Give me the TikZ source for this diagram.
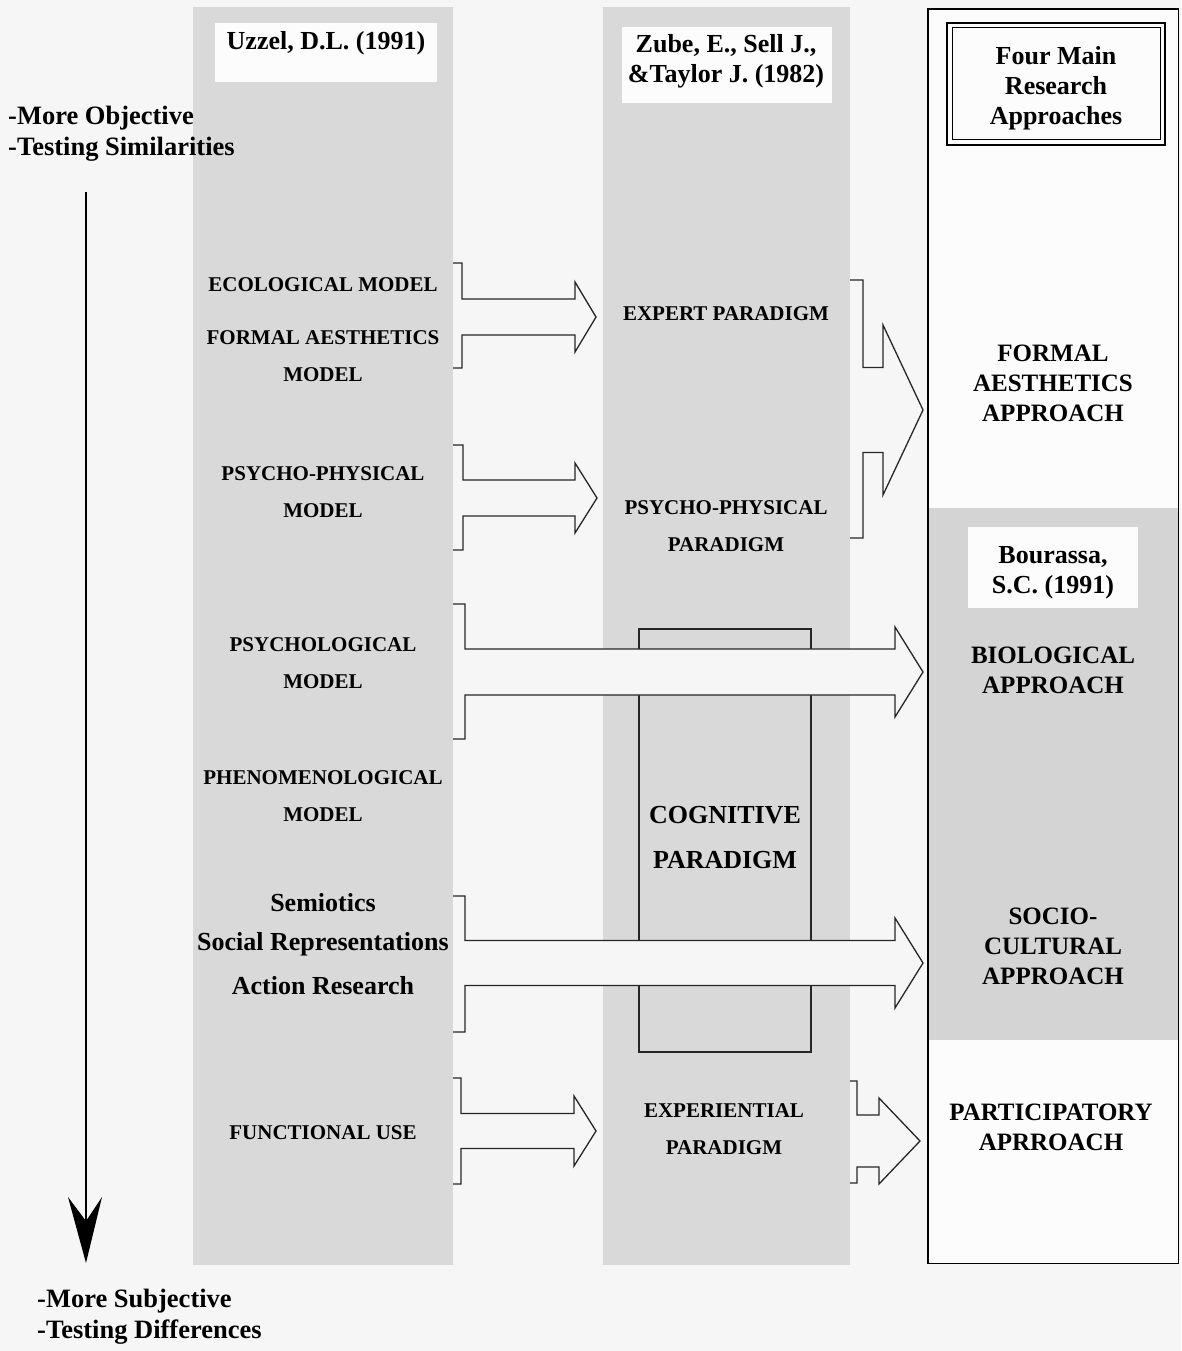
\documentclass[tikz,border=0pt]{standalone}
\usepackage{fontspec}
\setmainfont{Liberation Serif}
\definecolor{paper}{HTML}{F6F6F6}
\definecolor{band}{HTML}{D9D9D9}
\definecolor{bandR}{HTML}{D4D4D4}
\definecolor{card}{HTML}{FCFCFC}
% bracket-shaped block arrow:
% #1 tick x, #2 bracket x, #3 head base x, #4 tip x, #5 centre y,
% #6 shaft half width, #7 head half width, #8 upper tick y, #9 lower tick y
\newcommand\blockarrow[9]{%
  \fill[paper] (#2,#5-#6) -- (#3,#5-#6) -- (#3,#5-#7) -- (#4,#5)
     -- (#3,#5+#7) -- (#3,#5+#6) -- (#2,#5+#6) -- cycle;
  \draw[arrline] (#1,#8) -- (#2,#8) -- (#2,#5-#6) -- (#3,#5-#6) -- (#3,#5-#7)
     -- (#4,#5) -- (#3,#5+#7) -- (#3,#5+#6) -- (#2,#5+#6) -- (#2,#9) -- (#1,#9);
}
\begin{document}
\begin{tikzpicture}[x=1pt,y=-1pt,
  arrline/.style={draw=black!85, line width=1.3pt, line join=miter},
  capsA/.style={font=\fontsize{21}{37}\selectfont\bfseries, align=center, inner sep=0pt, anchor=base},
  bigA/.style={font=\fontsize{26}{30}\selectfont\bfseries, align=center, inner sep=0pt, anchor=base},
  apprA/.style={font=\fontsize{25}{30}\selectfont\bfseries, align=center, inner sep=0pt, anchor=base},
  sideA/.style={font=\fontsize{26.5}{31}\selectfont\bfseries, align=left, inner sep=0pt, anchor=base west},
  bandbox/.style={fill=band, draw=none, inner sep=0pt, anchor=north west},
  cardbox/.style={fill=card, draw=none, inner sep=0pt, anchor=north west}]
\useasboundingbox (0,0) rectangle (1181,1351);
\fill[paper] (0,0) rectangle (1181,1351);

% the two grey columns
\node[bandbox, minimum width=260pt, minimum height=1258pt] (colA) at (193,7) {};
\node[bandbox, minimum width=247pt, minimum height=1258pt] (colB) at (603,7) {};
\node[cardbox, minimum width=222pt, minimum height=59pt] (cardA) at (215,23) {};
\node[cardbox, minimum width=210pt, minimum height=76pt] (cardB) at (622,27) {};

% right column: approaches
\node[fill=card, inner sep=0pt, anchor=north west, minimum width=250pt, minimum height=1254pt] (colC) at (928,9) {};
\fill[bandR] (928,508) rectangle (1178,1040);
\node[cardbox, minimum width=170pt, minimum height=81pt] (cardC) at (968,527) {};
\fill[card] (947,23) rectangle (1165,145);
\draw[line width=2pt] (947,23) rectangle (1165,145);
\draw[line width=1pt] (952,28) rectangle (1160,140);

% cognitive paradigm frame
\draw[arrline] (639,629) rectangle (811,1052);

% block arrows
\blockarrow{453}{462}{575}{596}{317}{18}{35}{263}{368}
\blockarrow{453}{463}{575}{597}{498}{18}{35}{445}{550}
\blockarrow{850}{863}{883}{923}{410}{42.5}{85}{280}{538}
\blockarrow{453}{465}{895}{923}{672}{23}{45}{604}{739}
\blockarrow{453}{465}{895}{923}{963}{22.5}{45}{896}{1032}
\blockarrow{453}{461}{574}{596}{1131}{17.5}{35}{1078}{1184}
\blockarrow{850}{857}{879}{920}{1141}{26}{43}{1081}{1183}

\draw[line width=1.8pt] (colC.north west) rectangle (colC.south east);

% headers (a multi-line node sits on the baseline of its last line)
\node[bigA] (uzzel) at (326,50) {Uzzel, D.L. (1991)};
\node[bigA] (zube) at (726,83) {Zube, E., Sell J.,\\\&Taylor J. (1982)};
\node[bigA] (four) at (1056,125) {Four Main\\Research\\Approaches};
\node[bigA] (bour) at (1053,593) {Bourassa,\\S.C. (1991)};

% models
\node[capsA] (eco) at (323,291) {ECOLOGICAL MODEL};
\node[capsA] (fam) at (323,381) {FORMAL AESTHETICS\\MODEL};
\node[capsA] (ppm) at (323,517) {PSYCHO-PHYSICAL\\MODEL};
\node[capsA] (psm) at (323,688) {PSYCHOLOGICAL\\MODEL};
\node[capsA] (phm) at (323,821) {PHENOMENOLOGICAL\\MODEL};
\node[bigA] (semi) at (323,911) {Semiotics};
\node[bigA] (socr) at (323,950) {Social Representations};
\node[bigA] (actr) at (323,994) {Action Research};
\node[capsA] (fun) at (323,1139) {FUNCTIONAL USE};

% paradigms
\node[capsA] (exp) at (726,320) {EXPERT PARADIGM};
\node[capsA] (ppp) at (726,551) {PSYCHO-PHYSICAL\\PARADIGM};
\node[bigA, font=\fontsize{26}{45}\selectfont\bfseries] (cog) at (725,868) {COGNITIVE\\PARADIGM};
\node[capsA] (expr) at (724,1154) {EXPERIENTIAL\\PARADIGM};

% approaches
\node[apprA] (fa) at (1053,421) {FORMAL\\AESTHETICS\\APPROACH};
\node[apprA] (bio) at (1053,693) {BIOLOGICAL\\APPROACH};
\node[apprA] (soc) at (1053,984) {SOCIO-\\CULTURAL\\APPROACH};
\node[apprA] (par) at (1051,1150) {PARTICIPATORY\\APRROACH};

% objective / subjective scale
\node[sideA] (obj) at (8,156) {-More Objective\\-Testing Similarities};
\node[sideA] (subj) at (37,1338) {-More Subjective\\-Testing Differences};
\coordinate (scaleTop) at (86,192);
\coordinate (scaleTip) at (86,1263);
\draw[line width=2pt] (scaleTop) -- ([yshift=40pt]scaleTip);
\fill (scaleTip) -- ++(-18,-66) -- ++(18,24) -- ++(16,-24) -- cycle;
\end{tikzpicture}
\end{document}
